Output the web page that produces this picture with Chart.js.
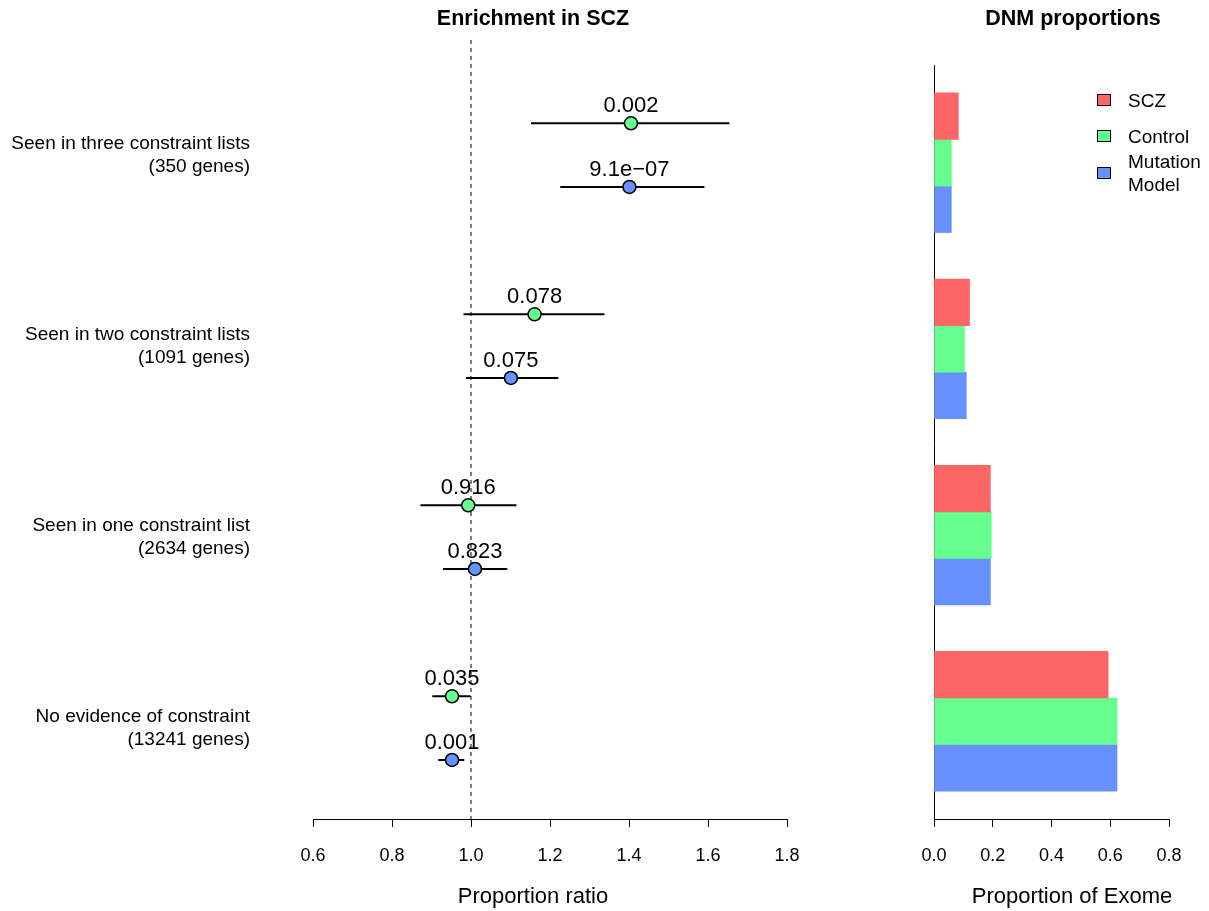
<!DOCTYPE html>
<html>
<head>
<meta charset="utf-8">
<script src="https://cdn.jsdelivr.net/npm/chart.js@4.4.1/dist/chart.umd.min.js"></script>
<style>
  html, body { margin: 0; padding: 0; background: #fff; }
  body { width: 1209px; height: 911px; position: relative; overflow: hidden;
         font-family: 'Liberation Sans', Arial, Helvetica, sans-serif; color: #000; }
  canvas { position: absolute; top: 0; }
  #forest { left: 0; }
  #bars { left: 880px; }
  .txt { position: absolute; text-align: center; white-space: nowrap; line-height: 26px; }
  .title { font-weight: bold; font-size: 21.5px; top: 5px; }
  .axis-title { font-size: 22px; top: 883px; }
  .legend-item { position: absolute; left: 1097px; display: flex; align-items: center;
                 font-size: 19px; line-height: 23px; }
  .legend-item .box { width: 12px; height: 10px; border: 1px solid #000; margin-right: 17px; }
</style>
</head>
<body>
<canvas id="forest" width="880" height="911"></canvas>
<canvas id="bars" width="329" height="911"></canvas>

<div class="txt title" style="left:383px;width:300px;">Enrichment in SCZ</div>
<div class="txt title" style="left:973px;width:200px;">DNM proportions</div>
<div class="txt axis-title" style="left:433px;width:200px;">Proportion ratio</div>
<div class="txt axis-title" style="left:962px;width:220px;">Proportion of Exome</div>

<div class="legend-item" style="top:88.5px;"><span class="box" style="background:#FF6666"></span><span>SCZ</span></div>
<div class="legend-item" style="top:124.5px;"><span class="box" style="background:#66FF8F"></span><span>Control</span></div>
<div class="legend-item" style="top:150px;"><span class="box" style="background:#6691FF"></span><span>Mutation<br>Model</span></div>

<script>
// 그룹 이름 (위에서 아래로)
const groupLabels = [
    ['Seen in three constraint lists', '(350 genes)'],
    ['Seen in two constraint lists', '(1091 genes)'],
    ['Seen in one constraint list', '(2634 genes)'],
    ['No evidence of constraint', '(13241 genes)']
];

// SCZ vs Control 비율 + 신뢰구간 + p값
const controlRatio = [1.405, 1.161, 0.993, 0.952];
const controlLow = [1.152, 0.981, 0.872, 0.902];
const controlHigh = [1.654, 1.338, 1.115, 0.999];
const controlP = ['0.002', '0.078', '0.916', '0.035'];

// SCZ vs Mutation model
const modelRatio = [1.401, 1.101, 1.010, 0.952];
const modelLow = [1.226, 0.987, 0.929, 0.917];
const modelHigh = [1.591, 1.221, 1.092, 0.983];
const modelP = ['9.1e\u221207', '0.075', '0.823', '0.001'];

const nullRatio = 1.0;
const ratioTicks = [0.6, 1.8, 0.2];   // min, max, step

// DNM proportions (Proportion of Exome)
const seriesNames = ['SCZ', 'Control', 'Mutation Model'];
const exomeScz = [0.083, 0.121, 0.192, 0.593];
const exomeControl = [0.059, 0.104, 0.195, 0.623];
const exomeModel = [0.059, 0.110, 0.192, 0.623];
const exomeTicks = [0, 0.8, 0.2];

const red = '#FF6666', green = '#66FF8F', blue = '#6691FF';

Chart.defaults.font.family = "'Liberation Sans', Arial, Helvetica, sans-serif";
Chart.defaults.color = '#000';

// 행 위치: 그룹마다 3칸 (control, model, 빈칸)
const rowOf = (g, s) => g * 3 + s;
const yMin = -1.308, yMax = 10.927;

// p값 라벨 플러그인
const pLabelPlugin = {
    id: 'pLabels',
    afterDatasetsDraw(chart) {
        const ctx = chart.ctx;
        ctx.save();
        ctx.font = "22px 'Liberation Sans', Arial, sans-serif";
        ctx.fillStyle = '#000';
        ctx.textAlign = 'center';
        ctx.textBaseline = 'alphabetic';
        chart.data.datasets.forEach((ds, di) => {
            if (!ds.pLabels) return;
            chart.getDatasetMeta(di).data.forEach((pt, i) => {
                ctx.fillText(ds.pLabels[i], pt.x, pt.y - 11);
            });
        });
        ctx.restore();
    }
};

const forestSets = [];
forestSets.push({
    data: [{ x: nullRatio, y: yMin }, { x: nullRatio, y: yMax }],
    showLine: true, borderColor: '#555', borderWidth: 1.5, borderDash: [4, 4],
    pointRadius: 0, order: 3
});
function addCI(lows, highs, s) {
    lows.forEach((lo, g) => {
        forestSets.push({
            data: [{ x: lo, y: rowOf(g, s) }, { x: highs[g], y: rowOf(g, s) }],
            showLine: true, borderColor: '#000', borderWidth: 2, pointRadius: 0, order: 2
        });
    });
}
addCI(controlLow, controlHigh, 0);
addCI(modelLow, modelHigh, 1);
forestSets.push({
    data: controlRatio.map((v, g) => ({ x: v, y: rowOf(g, 0) })),
    pointRadius: 6.5, pointBackgroundColor: green, pointBorderColor: '#000', pointBorderWidth: 1.5,
    order: 1, pLabels: controlP
});
forestSets.push({
    data: modelRatio.map((v, g) => ({ x: v, y: rowOf(g, 1) })),
    pointRadius: 6.5, pointBackgroundColor: blue, pointBorderColor: '#000', pointBorderWidth: 1.5,
    order: 1, pLabels: modelP
});

const axisX = (t) => ({
    type: 'linear', min: t[0], max: t[1],
    ticks: { stepSize: t[2], callback: v => v.toFixed(1), font: { size: 18 }, padding: 18 },
    grid: { drawOnChartArea: false, drawTicks: true, tickLength: 8, color: '#000', lineWidth: 1 },
    border: { display: true, color: '#000', width: 1 },
    afterFit: s => { s.height = 50; }
});

new Chart(document.getElementById('forest'), {
    type: 'scatter',
    data: { datasets: forestSets },
    options: {
        responsive: false, animation: false, devicePixelRatio: 1,
        layout: { padding: { top: 40, right: 93, bottom: 42, left: 0 } },
        plugins: { legend: { display: false }, tooltip: { enabled: false } },
        scales: {
            x: axisX(ratioTicks),
            y: {
                type: 'linear', reverse: true, min: yMin, max: yMax,
                afterBuildTicks: s => { s.ticks = groupLabels.map((_, g) => ({ value: rowOf(g, 0.5) })); },
                ticks: { callback: (v, i) => groupLabels[i], font: { size: 19 }, padding: 0 },
                // 눈금 길이로 라벨 간격을 만든다 (눈금은 그리지 않음)
                grid: { display: false, drawTicks: true, tickLength: 63 },
                border: { display: false },
                afterFit: s => { s.width = 313; }
            }
        }
    },
    plugins: [pLabelPlugin]
});

// 막대 위치: 그룹마다 4칸, 위에서 SCZ, Control, Model
const barPos = (g, s) => 4 * (groupLabels.length - 1 - g) + 3.5 - s;
const barSeries = [exomeScz, exomeControl, exomeModel];
const barColors = [red, green, blue];

new Chart(document.getElementById('bars'), {
    type: 'bar',
    data: {
        datasets: barSeries.map((vals, s) => ({
            label: seriesNames[s],
            data: vals.map((v, g) => ({ x: v, y: barPos(g, s) })),
            backgroundColor: barColors[s], borderWidth: 0,
            grouped: false, barPercentage: 1, categoryPercentage: 1
        }))
    },
    options: {
        indexAxis: 'y',
        responsive: false, animation: false, devicePixelRatio: 1,
        layout: { padding: { top: 65, right: 40, bottom: 42, left: 0 } },
        plugins: { legend: { display: false }, tooltip: { enabled: false } },
        scales: {
            x: axisX(exomeTicks),
            y: {
                type: 'linear', min: 0.4, max: 16.6, offset: false,
                afterBuildTicks: s => {
                    const t = [];
                    groupLabels.forEach((_, g) => seriesNames.forEach((__, k) => t.push({ value: barPos(g, k) })));
                    s.ticks = t.sort((a, b) => a.value - b.value);
                },
                ticks: { display: false },
                grid: { display: false, drawTicks: false, offset: false },
                border: { display: true, color: '#000', width: 1 },
                afterFit: s => { s.width = 54; }
            }
        }
    }
});
</script>
</body>
</html>
